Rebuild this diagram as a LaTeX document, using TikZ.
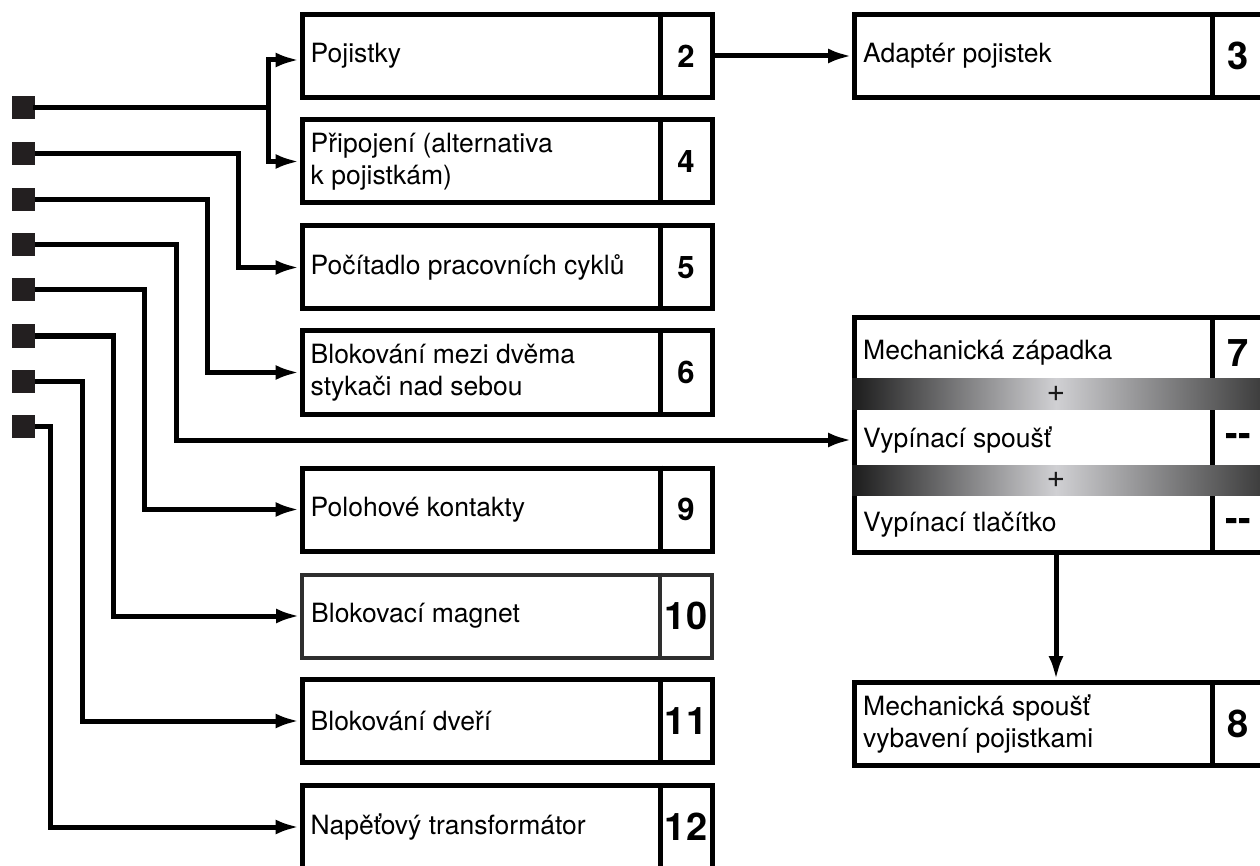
\documentclass[tikz,border=0pt]{standalone}
\usepackage{fontspec}
\setmainfont{TeX Gyre Heros}
\usetikzlibrary{arrows.meta}
\definecolor{sqcol}{HTML}{231F20}
\definecolor{barL}{HTML}{1C1C1C}
\definecolor{barM}{HTML}{D0D0D3}
\definecolor{barR}{HTML}{3E3E3E}
\newcommand\BoxRow[6]{%
  \node[box,#6] (#1) at (#2,#3) {};
  \draw[box,#6] ([xshift=153pt]#1.north) -- ([xshift=153pt]#1.south);
  \node[txt] (#1t) at ([xshift=11pt]#1.west) {#4};
  \node[num] (#1n) at ([xshift=179pt]#1.center) {#5};
}
\begin{document}
\begin{tikzpicture}[x=1pt,y=-1pt,
  box/.style={draw, line width=5pt, minimum width=410pt, minimum height=83pt, inner sep=0pt},
  thinbox/.style={draw=black!82, line width=4pt},
  txt/.style={anchor=west, inner sep=0pt, align=left, font=\fontsize{26.5}{32}\selectfont},
  num/.style={inner sep=0pt, font=\bfseries\fontsize{31}{31}\selectfont},
  bignum/.style={inner sep=0pt, font=\bfseries\fontsize{38}{38}\selectfont},
  sq/.style={fill=sqcol, minimum size=23pt, inner sep=0pt},
  conn/.style={line width=5pt, line cap=rect},
  arr/.style={line width=5pt, -{Latex[length=24pt,width=15pt]}},
  bar/.style={inner sep=0pt, minimum width=408pt, left color=barL, right color=barR, middle color=barM, font=\fontsize{32}{32}\selectfont, text=black!90}
]
\useasboundingbox (0,0) rectangle (1260,866);
\clip (0,0) rectangle (1260,866);

% left boxes
\BoxRow{b2}{507}{56}{Pojistky}{}{}
\node[num] at (b2n) {2};
\BoxRow{b4}{507}{161.5}{Připojení (alternativa\\k pojistkám)}{}{}
\node[num] at (b4n) {4};
\BoxRow{b5}{507}{267.5}{Počítadlo pracovních cyklů}{}{}
\node[num] at (b5n) {5};
\BoxRow{b6}{507}{372.5}{Blokování mezi dvěma\\stykači nad sebou}{}{}
\node[num] at (b6n) {6};
\BoxRow{b9}{507}{509.5}{Polohové kontakty}{}{}
\node[num] at (b9n) {9};
\BoxRow{b10}{507}{616}{Blokovací magnet}{}{thinbox}
\node[bignum] at (b10n) {10};
\BoxRow{b11}{507}{721}{Blokování dveří}{}{}
\node[bignum] at (b11n) {11};
\BoxRow{b12}{507}{827}{Napěťový transformátor}{}{}
\node[bignum] at (b12n) {12};

% right boxes
\BoxRow{b3}{1059.5}{56}{Adaptér pojistek}{}{}
\node[bignum] at (b3n) {3};
\BoxRow{b8}{1059.5}{724}{Mechanická spoušť\\vybavení pojistkami}{}{}
\node[bignum] at (b8n) {8};

% group 7
\node[box, minimum height=235pt] (g7) at (1059.5,435) {};
\draw[box] ([xshift=153pt]g7.north) -- ([xshift=153pt]g7.south);
\node[txt] (r7a) at (863,353) {Mechanická západka};
\node[txt] (r7b) at (863,440) {Vypínací spoušť};
\node[txt] (r7c) at (863,525) {Vypínací tlačítko};
\node[bignum] (n7a) at (1238.5,353) {7};
\node[bignum] (n7b) at (1238.5,440) {{-}{-}};
\node[bignum] (n7c) at (1238.5,525) {{-}{-}};
\node[bar, minimum height=31pt] (bar1) at (1056,394) {+};
\node[bar, minimum height=30pt] (bar2) at (1056,480) {+};

% squares
\foreach \i/\y in {1/108,2/154,3/200,4/245,5/290,6/336,7/381,8/426}
  \node[sq] (s\i) at (23.5,\y) {};
\foreach \i/\x in {1/268,2/238,3/207,4/176,5/144,6/113,7/82,8/50}
  \coordinate (v\i) at (\x,0);

% connectors
\draw[conn] (s1.east) -- (s1.east -| v1);
\draw[arr] (s1.east -| v1) |- ([yshift=-4pt]b2.west);
\draw[arr] (s1.east -| v1) |- (b4.west);
\draw[arr] (s2.east) -- (s2.east -| v2) |- (b5.west);
\draw[arr] (s3.east) -- (s3.east -| v3) |- (b6.west);
\draw[arr] (s4.east) -- (s4.east -| v4) |- (g7.west |- r7b);
\draw[arr] (s5.east) -- (s5.east -| v5) |- (b9.west);
\draw[arr] (s6.east) -- (s6.east -| v6) |- (b10.west);
\draw[arr] (s7.east) -- (s7.east -| v7) |- (b11.west);
\draw[arr] (s8.east) -- (s8.east -| v8) |- (b12.west);
\draw[arr] (b2.east) -- (b3.west);
\draw[arr] (bar1.center |- g7.south) -- (bar1.center |- b8.north);
\end{tikzpicture}
\end{document}
